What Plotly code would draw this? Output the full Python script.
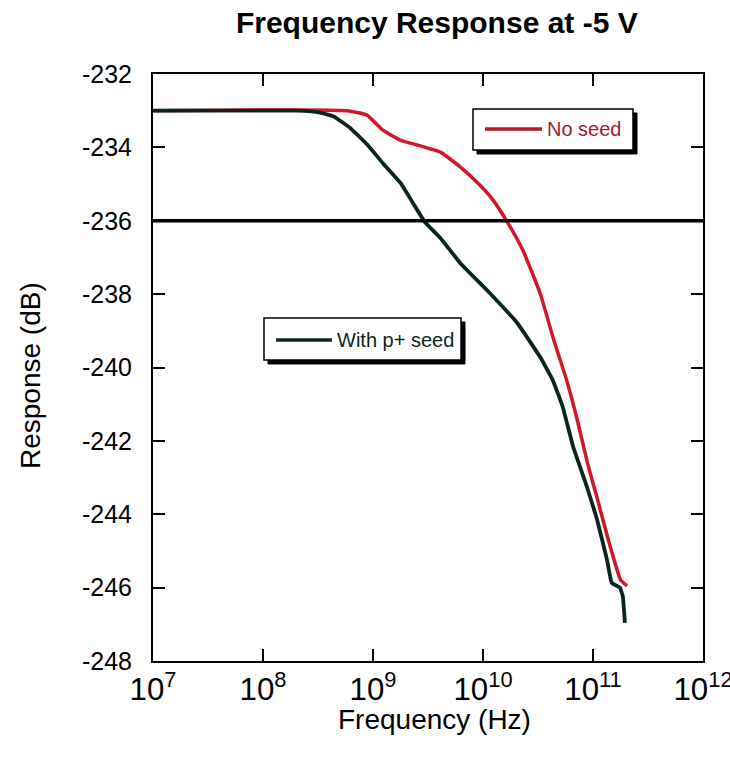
import plotly.graph_objects as go

# No seed (red)
noseed_freq = [1e7, 5.8e8, 8.8e8, 1.23e9, 1.76e9, 2.5e9, 4.1e9, 6.2e9, 9.3e9,
               1.23e10, 1.66e10, 2.3e10, 3.3e10, 4.4e10, 5.75e10, 7.2e10, 8.9e10,
               1.1e11, 1.35e11, 1.78e11, 2.04e11]
noseed_db = [-233.0, -233.0, -233.12, -233.53, -233.80, -233.93, -234.13, -234.53, -235.02,
             -235.43, -236.03, -236.80, -237.97, -239.25, -240.34, -241.43, -242.6,
             -243.6, -244.6, -245.79, -245.95]

# With p+ seed (black)
seed_freq = [1e7, 2.0e8, 3.3e8, 4.4e8, 6.2e8, 8.9e8, 1.23e9, 1.78e9, 2.3e9, 2.95e9,
             4.1e9, 6.2e9, 1.15e10, 2.04e10, 3.3e10, 4.3e10, 5.3e10, 6.6e10,
             8.8e10, 1.09e11, 1.34e11, 1.48e11, 1.76e11, 1.87e11, 1.95e11]
seed_db = [-233.0, -233.0, -233.05, -233.16, -233.47, -233.93, -234.43, -234.97, -235.51, -236.03,
           -236.47, -237.15, -237.97, -238.78, -239.71, -240.34, -241.07, -242.16,
           -243.25, -244.15, -245.24, -245.87, -246.0, -246.25, -246.96]

ref_level = -236.0
y_ticks = [-248, -246, -244, -242, -240, -238, -236, -234, -232]

RED = "#d0182a"
RED_TXT = "#a8182e"
DARK = "#0a261a"
FONT = "Liberation Sans, Arial, sans-serif"

fig = go.Figure()
fig.add_trace(go.Scatter(x=noseed_freq, y=noseed_db, mode="lines",
                         line=dict(color=RED, width=3.5, shape="spline", smoothing=0.4),
                         showlegend=False))
fig.add_trace(go.Scatter(x=seed_freq, y=seed_db, mode="lines",
                         line=dict(color=DARK, width=3.8, shape="spline", smoothing=0.3),
                         showlegend=False))

fig.add_hline(y=ref_level, line=dict(color="black", width=3.5))

# Legend boxes (drawn manually with shadow)
def legend_box(x0, x1, y0, y1, lx0, lx1, ly, tx, text, color, lcolor):
    sx, sy = 0.0073, 0.0068
    fig.add_shape(type="rect", xref="paper", yref="paper",
                  x0=x0 + sx, x1=x1 + sx, y0=y0 - sy, y1=y1 - sy,
                  fillcolor="black", line=dict(color="black", width=1))
    fig.add_shape(type="rect", xref="paper", yref="paper",
                  x0=x0, x1=x1, y0=y0, y1=y1,
                  fillcolor="white", line=dict(color="black", width=1.5))
    fig.add_shape(type="line", xref="paper", yref="paper",
                  x0=lx0, x1=lx1, y0=ly, y1=ly,
                  line=dict(color=lcolor, width=3.5))
    fig.add_annotation(xref="paper", yref="paper", x=tx, y=ly,
                       text=text, showarrow=False, xanchor="left", yanchor="middle",
                       font=dict(family=FONT, size=20, color=color))

legend_box(0.5818, 0.8727, 0.8705, 0.9404, 0.6036, 0.7073, 0.9063, 0.712,
           "No seed", RED_TXT, "#b0182c")
legend_box(0.2018, 0.5600, 0.5128, 0.5843, 0.2236, 0.3255, 0.5468, 0.330,
           "With p+ seed", DARK, DARK)

# Axis titles as annotations
fig.add_annotation(xref="paper", yref="paper", x=0.511, y=-0.099,
                   text="Frequency (Hz)", showarrow=False,
                   xanchor="center", yanchor="middle",
                   font=dict(family=FONT, size=28, color="black"))
fig.add_annotation(xref="paper", yref="paper", x=-0.2236, y=0.4855,
                   text="Response (dB)", showarrow=False, textangle=-90,
                   xanchor="center", yanchor="middle",
                   font=dict(family=FONT, size=28, color="black"))

fig.update_layout(
    width=730, height=767,
    margin=dict(l=153, r=27, t=74, b=106),
    paper_bgcolor="white", plot_bgcolor="white",
    title=dict(text="<b>Frequency Response at -5 V</b>", x=0.516, xref="paper",
               xanchor="center", y=0.971, yanchor="middle", yref="container",
               font=dict(family=FONT, size=30, color="black")),
    font=dict(family=FONT, color="black"),
)
fig.update_xaxes(type="log", range=[7, 12], dtick=1, exponentformat="power",
                 showgrid=False, zeroline=False, automargin=False,
                 showline=True, linecolor="black", linewidth=2, mirror="allticks",
                 ticks="inside", ticklen=12, tickwidth=2, tickcolor="black",
                 ticklabelstandoff=1, ticklabeloverflow="allow",
                 tickfont=dict(family=FONT, size=25, color="black"))
fig.update_yaxes(range=[-248, -232], tickvals=y_ticks,
                 ticktext=[str(v) for v in y_ticks],
                 showgrid=False, zeroline=False, automargin=False,
                 showline=True, linecolor="black", linewidth=2, mirror="allticks",
                 ticks="inside", ticklen=12, tickwidth=2, tickcolor="black",
                 ticklabelstandoff=14,
                 tickfont=dict(family=FONT, size=25, color="black"))

fig.write_html("out.html")
